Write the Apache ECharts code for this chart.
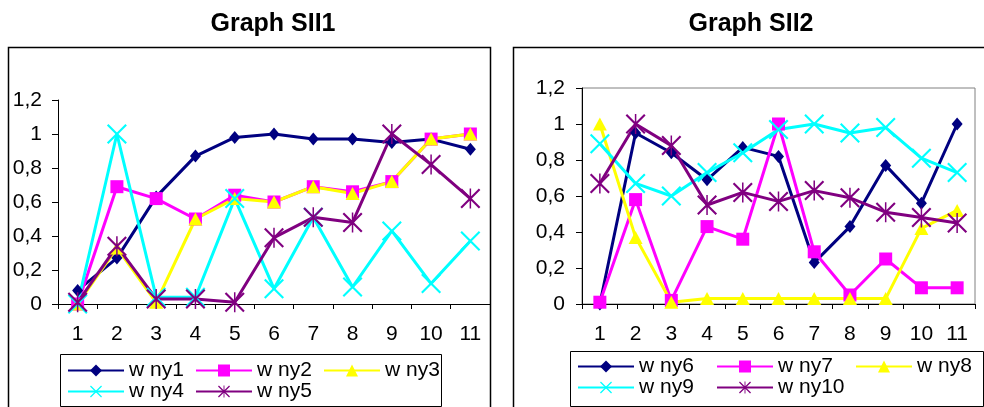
<!DOCTYPE html>
<html>
<head>
<meta charset="utf-8">
<script src="https://cdn.jsdelivr.net/npm/echarts@6/dist/echarts.min.js"></script>
<style>
  html, body { margin: 0; padding: 0; background: #fff; }
  #chart { width: 984px; height: 407px; }
</style>
</head>
<body>
<div id="chart"></div>
<script>
// Categories on both x axes and y tick labels (decimal comma)
const categories = ['1', '2', '3', '4', '5', '6', '7', '8', '9', '10', '11'];
const yTickLabels = ['0', '0,2', '0,4', '0,6', '0,8', '1', '1,2'];

// Graph SII1
const titleLeft = 'Graph SII1';
const namesLeft = ['w ny1', 'w ny2', 'w ny3', 'w ny4', 'w ny5'];
const wny1 = [0.08, 0.27, 0.63, 0.87, 0.98, 1.00, 0.97, 0.97, 0.95, 0.97, 0.91];
const wny2 = [0.00, 0.69, 0.62, 0.50, 0.64, 0.60, 0.69, 0.66, 0.72, 0.97, 1.00];
const wny3 = [0.00, 0.33, 0.01, 0.50, 0.62, 0.60, 0.69, 0.65, 0.72, 0.97, 1.00];
const wny4 = [0.00, 1.00, 0.04, 0.04, 0.62, 0.09, 0.51, 0.10, 0.43, 0.12, 0.37];
const wny5 = [0.01, 0.34, 0.03, 0.03, 0.01, 0.39, 0.51, 0.48, 1.00, 0.82, 0.62];

// Graph SII2
const titleRight = 'Graph SII2';
const namesRight = ['w ny6', 'w ny7', 'w ny8', 'w ny9', 'w ny10'];
const wny6 = [0.00, 0.95, 0.84, 0.69, 0.87, 0.82, 0.23, 0.43, 0.77, 0.56, 1.00];
const wny7 = [0.01, 0.58, 0.02, 0.43, 0.36, 1.00, 0.29, 0.05, 0.25, 0.09, 0.09];
const wny8 = [1.00, 0.37, 0.01, 0.03, 0.03, 0.03, 0.03, 0.03, 0.03, 0.42, 0.52];
const wny9 = [0.89, 0.67, 0.60, 0.73, 0.84, 0.97, 1.00, 0.95, 0.98, 0.81, 0.73];
const wny10 = [0.67, 1.00, 0.88, 0.55, 0.62, 0.57, 0.63, 0.59, 0.51, 0.48, 0.45];

const FONT = '"Liberation Sans", Arial, sans-serif';
const LABEL_SIZE = 21;

// Marker shapes: thin X cross and asterisk (X plus vertical bar)
const CROSS = 'path://M0,1.5L1.5,0L20,18.5L18.5,20ZM18.5,0L20,1.5L1.5,20L0,18.5Z';
const STAR = 'path://M0,1.5L1.5,0L20,18.5L18.5,20ZM18.5,0L20,1.5L1.5,20L0,18.5ZM9.25,0L10.75,0L10.75,20L9.25,20Z';

const styles = [
  { color: '#000080', symbol: 'diamond', size: [11, 13] },
  { color: '#FF00FF', symbol: 'rect', size: 13 },
  { color: '#FFFF00', symbol: 'triangle', size: [14, 13] },
  { color: '#00FFFF', symbol: CROSS, size: 20 },
  { color: '#800080', symbol: STAR, size: 20 }
];

function makeSeries(names, values, axisIndex) {
  return names.map((name, i) => ({
    name: name,
    type: 'line',
    xAxisIndex: axisIndex,
    yAxisIndex: axisIndex,
    data: values[i],
    symbol: styles[i].symbol,
    symbolSize: styles[i].size,
    showAllSymbol: true,
    clip: false,
    color: styles[i].color,
    lineStyle: { color: styles[i].color, width: 3 },
    itemStyle: { color: styles[i].color, borderWidth: 0 },
    emphasis: { disabled: true },
    animation: false
  }));
}

function xAxis(idx, margin) {
  return {
    type: 'category',
    gridIndex: idx,
    data: categories,
    boundaryGap: true,
    axisLine: { lineStyle: { color: '#000', width: 1 } },
    axisTick: { show: true, inside: false, length: 5, lineStyle: { color: '#000' } },
    axisLabel: { color: '#000', fontSize: LABEL_SIZE, fontFamily: FONT, margin: margin, interval: 0 },
    splitLine: { show: false }
  };
}

function yAxis(idx, margin) {
  return {
    type: 'value',
    gridIndex: idx,
    min: 0, max: 1.2, interval: 0.2,
    axisLine: { show: true, lineStyle: { color: '#000', width: 1 } },
    axisTick: { show: true, inside: false, length: 6, lineStyle: { color: '#000' } },
    axisLabel: {
      color: '#000', fontSize: LABEL_SIZE, fontFamily: FONT, margin: margin,
      formatter: v => yTickLabels[Math.round(v / 0.2)]
    },
    splitLine: { show: false }
  };
}

function legend(names, left, top, textWidth) {
  return {
    data: names,
    left: left, top: top,
    width: 3 * (56 + 5 + textWidth) + 4,
    orient: 'horizontal',
    itemGap: 0,
    itemWidth: 56,
    itemHeight: 15,
    padding: 0,
    selectedMode: false,
    textStyle: { color: '#000', fontSize: LABEL_SIZE, fontFamily: FONT, width: textWidth, lineHeight: 20 }
  };
}

const chart = echarts.init(document.getElementById('chart'), null, { renderer: 'canvas' });

chart.setOption({
  animation: false,
  backgroundColor: '#fff',
  title: [
    { text: titleLeft, left: 268, top: 7, textAlign: 'center',
      textStyle: { fontSize: 25, fontWeight: 'bold', color: '#000', fontFamily: FONT } },
    { text: titleRight, left: 746, top: 7, textAlign: 'center',
      textStyle: { fontSize: 25, fontWeight: 'bold', color: '#000', fontFamily: FONT } }
  ],
  grid: [
    { left: 58, top: 100, width: 432, height: 204 },
    { left: 582, top: 88, width: 393, height: 216, show: true, borderColor: '#808080', borderWidth: 1, backgroundColor: 'transparent' }
  ],
  xAxis: [xAxis(0, 20), xAxis(1, 20)],
  yAxis: [yAxis(0, 16), yAxis(1, 17)],
  legend: [
    legend(namesLeft, 67, 360, 66),
    legend(namesRight, 577, 356, 77)
  ],
  graphic: [
    // chart frames
    { type: 'rect', shape: { x: 8.5, y: 47.5, width: 482, height: 400 }, style: { fill: 'none', stroke: '#000', lineWidth: 1.5 }, z: -1 },
    { type: 'rect', shape: { x: 513.5, y: 47.5, width: 500, height: 400 }, style: { fill: 'none', stroke: '#000', lineWidth: 1.5 }, z: -1 },
    // legend boxes
    { type: 'rect', shape: { x: 60.5, y: 354.5, width: 381, height: 52 }, style: { fill: 'none', stroke: '#000', lineWidth: 1 }, z: -1 },
    { type: 'rect', shape: { x: 570.5, y: 351.5, width: 413, height: 55 }, style: { fill: 'none', stroke: '#000', lineWidth: 1 }, z: -1 }
  ],
  series: [
    ...makeSeries(namesLeft, [wny1, wny2, wny3, wny4, wny5], 0),
    ...makeSeries(namesRight, [wny6, wny7, wny8, wny9, wny10], 1)
  ]
});
</script>
</body>
</html>
